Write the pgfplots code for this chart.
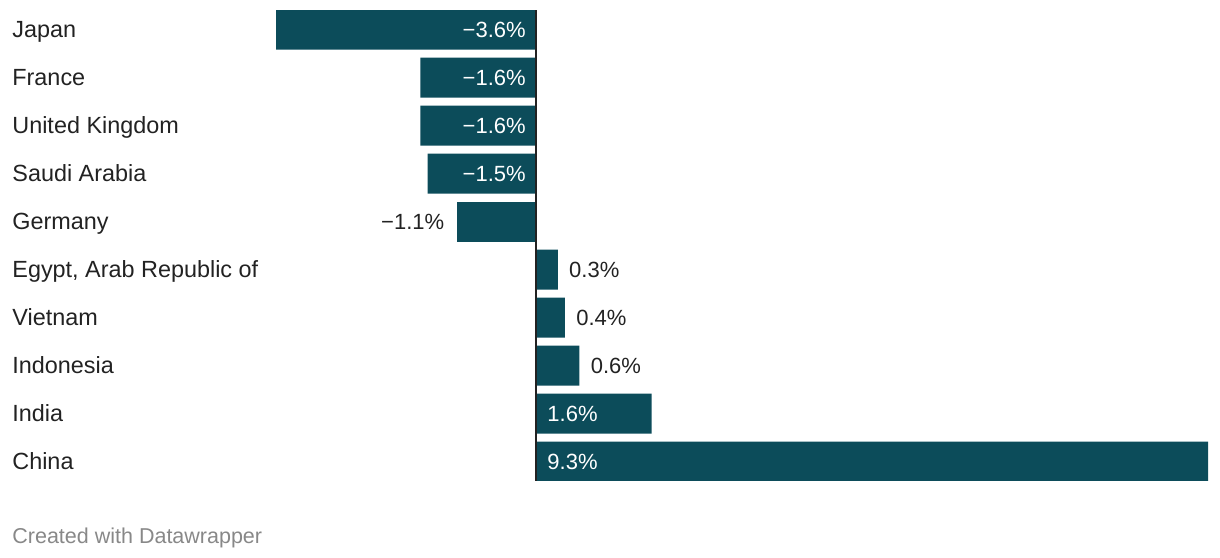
\documentclass[border=0pt]{standalone}
\usepackage{pgfplots}
\pgfplotsset{compat=1.18}
\usepackage{fontspec}
\setmainfont{Liberation Sans}
\definecolor{barc}{HTML}{0C4C5A}
\definecolor{txt}{HTML}{222222}
\definecolor{foot}{HTML}{888888}
\newcommand{\lblfont}{\fontsize{11bp}{13bp}\selectfont}
\newcommand{\catfont}{\fontsize{11.7bp}{14bp}\selectfont}

\begin{document}
\begin{tikzpicture}
\useasboundingbox (0,0) rectangle (610bp,279bp);
\begin{axis}[
    at={(138bp,38.65bp)}, anchor=south west,
    scale only axis, width=466bp, height=235.2bp,
    xbar, bar width=20bp, bar shift=0pt,
    xmin=-3.6, xmax=9.3, ymin=-0.4, ymax=9.4,
    y dir=reverse,
    axis line style={draw=none},
    major tick length=0pt,
    xtick=\empty,
    ytick={0,...,9},
    yticklabels={Japan, France, United Kingdom, Saudi Arabia, Germany,
      {Egypt, Arab Republic of}, Vietnam, Indonesia, India, China},
    yticklabel style={anchor=base west, inner sep=0pt, xshift=-132bp,
      yshift=-4.2bp, font=\catfont, text=txt},
    point meta=explicit symbolic,
    nodes near coords,
]
% large negative bars: label inside, next to zero
\addplot[fill=barc, draw=none,
    visualization depends on={rawx \as \xv},
    nodes near coords style={shift={(axis direction cs:-\xv,0)},
      anchor=base east, inner sep=0pt, xshift=-5bp, yshift=-3.95bp,
      text=white, font=\lblfont}]
  coordinates {(-3.6,0) [−3.6\%] (-1.6,1) [−1.6\%] (-1.6,2) [−1.6\%] (-1.5,3) [−1.5\%]};
% small negative bar: label outside
\addplot[fill=barc, draw=none,
    nodes near coords style={anchor=base east, inner sep=0pt, xshift=-6bp,
      yshift=-3.95bp, text=txt, font=\lblfont}]
  coordinates {(-1.1,4) [−1.1\%]};
% small positive bars: label outside
\addplot[fill=barc, draw=none,
    nodes near coords style={anchor=base west, inner sep=0pt, xshift=5.5bp,
      yshift=-3.95bp, text=txt, font=\lblfont}]
  coordinates {(0.3,5) [0.3\%] (0.4,6) [0.4\%] (0.6,7) [0.6\%]};
% large positive bars: label inside, next to zero
\addplot[fill=barc, draw=none,
    visualization depends on={rawx \as \xv},
    nodes near coords style={shift={(axis direction cs:-\xv,0)},
      anchor=base west, inner sep=0pt, xshift=5.5bp, yshift=-3.95bp,
      text=white, font=\lblfont}]
  coordinates {(1.6,8) [1.6\%] (9.3,9) [9.3\%]};
\draw[txt, line width=1bp] (axis cs:0,-0.4) -- (axis cs:0,9.4);
\end{axis}
\node[anchor=base west, inner sep=0pt, text=foot,
  font=\fontsize{10.75bp}{13bp}\selectfont]
  at (6bp,7.5bp) {Created with Datawrapper};
\end{tikzpicture}
\end{document}
